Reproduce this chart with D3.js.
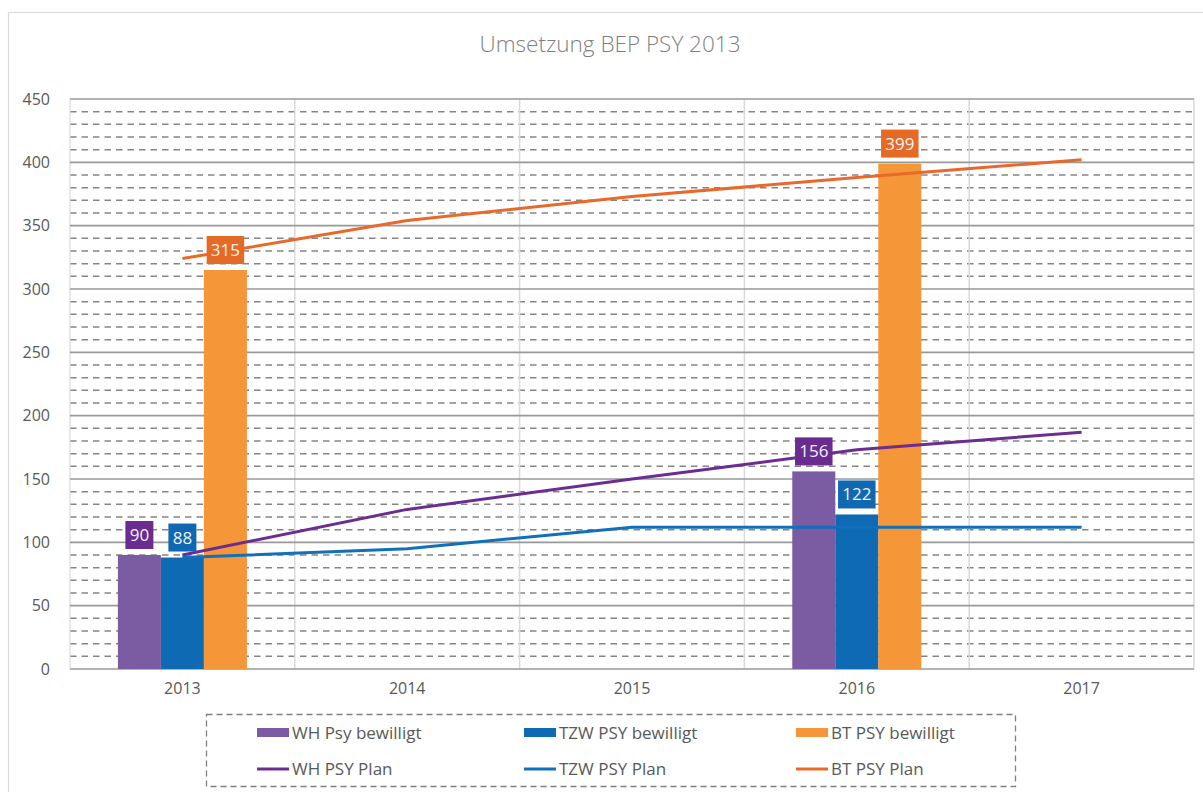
<!DOCTYPE html>
<html>
<head>
<meta charset="utf-8">
<title>Umsetzung BEP PSY 2013</title>
<script src="https://cdn.jsdelivr.net/npm/d3@7"></script>
<style>
  body { margin: 0; background: #fff; }
  text { font-family: "Open Sans", sans-serif; }
</style>
</head>
<body>
<div id="chart"></div>
<script>
var years = ["2013", "2014", "2015", "2016", "2017"];
// bewilligt (bars) - only 2013 and 2016 have values
var whBewilligt = [90, null, null, 156, null];
var tzwBewilligt = [88, null, null, 122, null];
var btBewilligt = [315, null, null, 399, null];
// Plan (lines)
var whPlan = [90, 126, 150, 173, 187];
var tzwPlan = [88, 95, 112, 112, 112];
var btPlan = [324, 354, 373, 388, 402];
var yTicks = [0, 50, 100, 150, 200, 250, 300, 350, 400, 450];

var width = 1203, height = 792;
var margin = {left: 70, right: 9, top: 99, bottom: 123};

var svg = d3.select("#chart").append("svg")
  .attr("width", width).attr("height", height);

// outer chart border
svg.append("rect")
  .attr("x", 8.5).attr("y", 12.5)
  .attr("width", width).attr("height", height)
  .attr("fill", "none").attr("stroke", "#d9d9d9").attr("stroke-width", 1.2);

svg.append("text")
  .attr("x", 610).attr("y", 52)
  .attr("text-anchor", "middle")
  .attr("font-size", 22.5).attr("font-weight", 300).attr("fill", "#7f7f7f")
  .text("Umsetzung BEP PSY 2013");

var x = d3.scaleBand().domain(years)
  .range([margin.left, width - margin.right]).padding(0);
var y = d3.scaleLinear().domain([0, 450])
  .range([height - margin.bottom, margin.top]);

var g = svg.append("g");

// minor dashed grid every 10
var minor = d3.range(10, 450, 10).filter(function(v) { return v % 50 !== 0; });
g.selectAll(".minor").data(minor).enter().append("line")
  .attr("x1", x.range()[0]).attr("x2", x.range()[1])
  .attr("y1", function(d) { return y(d); }).attr("y2", function(d) { return y(d); })
  .attr("stroke", "#858585").attr("stroke-width", 1.5)
  .attr("stroke-dasharray", "6.5,5");

// vertical grid lines between categories
g.selectAll(".vgrid").data(years.slice(1)).enter().append("line")
  .attr("x1", function(d) { return x(d); }).attr("x2", function(d) { return x(d); })
  .attr("y1", y(450)).attr("y2", y(0))
  .attr("stroke", "#d9d9d9").attr("stroke-width", 1.5);
// right border
g.append("line")
  .attr("x1", x.range()[1]).attr("x2", x.range()[1])
  .attr("y1", y(450)).attr("y2", y(0))
  .attr("stroke", "#d9d9d9").attr("stroke-width", 1.5);
// left border
g.append("line")
  .attr("x1", x.range()[0]).attr("x2", x.range()[0])
  .attr("y1", y(450)).attr("y2", y(0))
  .attr("stroke", "#d9d9d9").attr("stroke-width", 1.2);

// major grid every 50
g.selectAll(".major").data(yTicks).enter().append("line")
  .attr("x1", x.range()[0]).attr("x2", x.range()[1])
  .attr("y1", function(d) { return y(d); }).attr("y2", function(d) { return y(d); })
  .attr("stroke", "#999999").attr("stroke-width", 1.6);

// y axis labels
var yAxis = svg.append("g")
  .attr("transform", "translate(" + (margin.left - 20) + ",0)")
  .call(d3.axisLeft(y).tickValues(yTicks).tickSize(0).tickPadding(0));
yAxis.select(".domain").remove();
yAxis.selectAll("text").attr("font-size", 16).attr("fill", "#595959")
  .style("font-family", "'Open Sans', sans-serif");

// x axis labels
var xAxis = svg.append("g")
  .attr("transform", "translate(0," + (y(0) + 14) + ")")
  .call(d3.axisBottom(x).tickSize(0).tickPadding(0));
xAxis.select(".domain").remove();
xAxis.selectAll("text").attr("font-size", 16).attr("fill", "#595959")
  .style("font-family", "'Open Sans', sans-serif");

// bars
var barSeries = [
  {name: "WH Psy bewilligt", values: whBewilligt, fill: "#7b5ba1", label: "#6a2c91"},
  {name: "TZW PSY bewilligt", values: tzwBewilligt, fill: "#0f6ab4", label: "#1068b3"},
  {name: "BT PSY bewilligt", values: btBewilligt, fill: "#f59638", label: "#e46a25"}
];
var groupW = x.bandwidth() * 0.574;
var xs = d3.scaleBand().domain(barSeries.map(function(s) { return s.name; }))
  .range([0, groupW]).padding(0);

barSeries.forEach(function(s) {
  var pts = years.map(function(yr, i) { return {year: yr, v: s.values[i]}; })
    .filter(function(d) { return d.v != null; });
  var bx = function(d) { return x(d.year) + (x.bandwidth() - groupW) / 2 + xs(s.name); };
  g.selectAll(null).data(pts).enter().append("rect")
    .attr("x", bx).attr("width", xs.bandwidth())
    .attr("y", function(d) { return y(d.v); })
    .attr("height", function(d) { return y(0) - y(d.v); })
    .attr("fill", s.fill);
  s.pts = pts; s.bx = bx;
});

// plan lines
var lineSeries = [
  {name: "WH PSY Plan", values: whPlan, stroke: "#6b2d91"},
  {name: "TZW PSY Plan", values: tzwPlan, stroke: "#1170b9"},
  {name: "BT PSY Plan", values: btPlan, stroke: "#e8692a"}
];
var line = d3.line()
  .x(function(d, i) { return x(years[i]) + x.bandwidth() / 2; })
  .y(function(d) { return y(d); });
lineSeries.forEach(function(s) {
  g.append("path").datum(s.values)
    .attr("d", line).attr("fill", "none")
    .attr("stroke", s.stroke).attr("stroke-width", 3);
});

// data labels on bars
barSeries.forEach(function(s) {
  s.pts.forEach(function(d) {
    var cx = s.bx(d) + xs.bandwidth() / 2;
    var txt = String(d.v);
    var w = txt.length * 9.5 + 9, h = 28;
    var top = y(d.v) - 6 - h;
    g.append("rect").attr("x", cx - w / 2).attr("y", top)
      .attr("width", w).attr("height", h).attr("fill", s.label);
    g.append("text").attr("x", cx).attr("y", top + h / 2 + 6)
      .attr("text-anchor", "middle").attr("font-size", 17)
      .attr("fill", "#f2f2f2").text(txt);
  });
});

// legend
var lg = svg.append("g");
lg.append("rect").attr("x", 206.5).attr("y", 714.5)
  .attr("width", 809).attr("height", 72)
  .attr("fill", "none").attr("stroke", "#808080").attr("stroke-width", 1.3)
  .attr("stroke-dasharray", "6,4");
var colX = [257, 524, 796];
barSeries.forEach(function(s, i) {
  lg.append("rect").attr("x", colX[i]).attr("y", 728)
    .attr("width", 32).attr("height", 9).attr("fill", s.fill);
  lg.append("text").attr("x", colX[i] + 35).attr("y", 739)
    .attr("font-size", 17).attr("fill", "#595959").text(s.name);
});
lineSeries.forEach(function(s, i) {
  lg.append("line").attr("x1", colX[i]).attr("x2", colX[i] + 32)
    .attr("y1", 769).attr("y2", 769)
    .attr("stroke", s.stroke).attr("stroke-width", 3);
  lg.append("text").attr("x", colX[i] + 35).attr("y", 775)
    .attr("font-size", 17).attr("fill", "#595959").text(s.name);
});
</script>
</body>
</html>
